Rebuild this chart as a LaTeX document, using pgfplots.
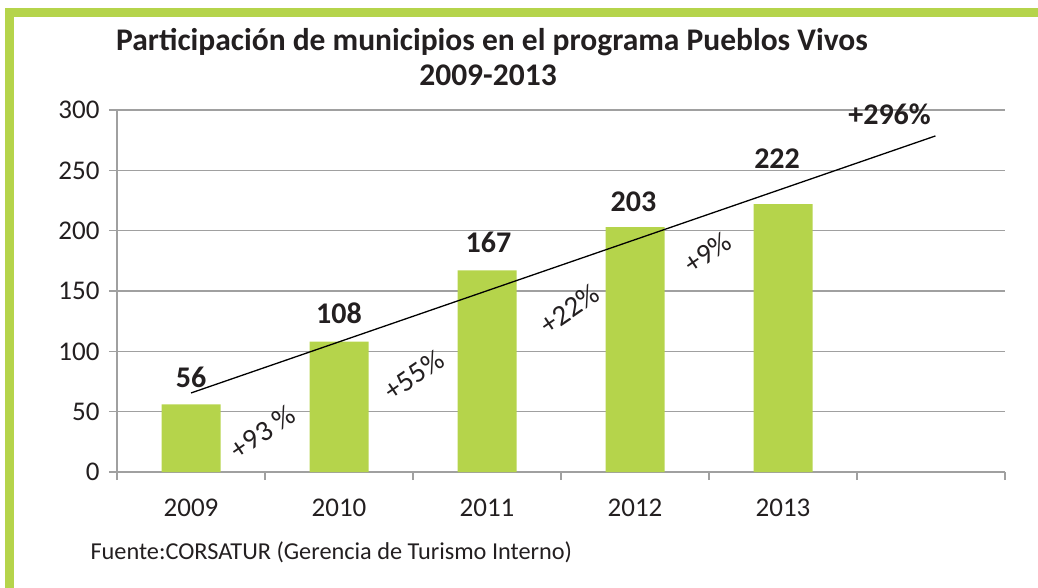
\documentclass[border=0pt]{standalone}
\usepackage{fontspec}
\setmainfont{Carlito}
\usepackage{pgfplots}
\pgfplotsset{compat=1.18}
\definecolor{barg}{RGB}{181,212,75}
\definecolor{gridg}{RGB}{160,160,160}
\definecolor{txt}{RGB}{35,31,32}
\begin{document}
\begin{tikzpicture}[x=1pt,y=1pt]
\path[use as bounding box] (0,0) rectangle (1038,-588);
\fill[barg] (5,-8) rectangle (1038,-17);
\fill[barg] (5,-8) rectangle (14,-588);
\node[text=txt,font=\fontsize{31.5}{36}\selectfont\bfseries] at (492,-42) {Participación de municipios en el programa Pueblos Vivos};
\node[text=txt,font=\fontsize{31.5}{36}\selectfont\bfseries] at (488,-75) {2009-2013};
\node[text=txt,anchor=west,font=\fontsize{24.3}{28}\selectfont] at (87,-552) {Fuente:CORSATUR (Gerencia de Turismo Interno)};
\begin{axis}[
  at={(117pt,-472pt)}, anchor=south west,
  scale only axis, width=888pt, height=362pt,
  xmin=-0.5, xmax=5.5, ymin=0, ymax=300,
  ytick={0,50,...,300},
  xtick={0,1,2,3,4},
  xticklabels={2009,2010,2011,2012,2013},
  minor xtick={-0.5,0.5,...,5.5},
  ymajorgrids,
  grid style={gridg, line width=1.5pt},
  axis x line=bottom, axis y line=left,
  axis line style={-, gridg, line width=1.5pt},
  tick align=outside,
  major tick length=8pt, minor tick length=8pt,
  tick style={gridg, line width=1.5pt},
  every major x tick/.style={draw=none},
  ticklabel style={text=txt, font=\fontsize{27}{32}\selectfont},
  xticklabel style={yshift=-15pt},
  yticklabel style={xshift=-6pt},
  /pgf/number format/assume math mode=true,
  clip=false,
]
\addplot[ybar, bar width=59pt, fill=barg, draw=none] coordinates {(0,56) (1,108) (2,167) (3,203) (4,222)};
\addplot[black, line width=1.3pt] coordinates {(0,65.5) (5.03,278.5)};
\begin{scope}[every node/.style={text=txt, font=\fontsize{30}{34}\selectfont\bfseries}]
\node at (axis cs:0,78.7) {56};
\node at (axis cs:1,131.7) {108};
\node at (axis cs:2.01,190.5) {167};
\node at (axis cs:2.99,223.8) {203};
\node at (axis cs:3.96,259.4) {222};
\node at (axis cs:4.72,296.7) {+296\%};
\end{scope}
\begin{scope}[every node/.style={text=txt, font=\fontsize{29}{34}\selectfont, rotate=34}]
\node at (axis cs:0.486,33.1) {+93 \%};
\node at (axis cs:1.507,80.4) {+55\%};
\node at (axis cs:2.56,135) {+22\%};
\node at (axis cs:3.49,182) {+9\%};
\end{scope}
\end{axis}
\end{tikzpicture}
\end{document}
